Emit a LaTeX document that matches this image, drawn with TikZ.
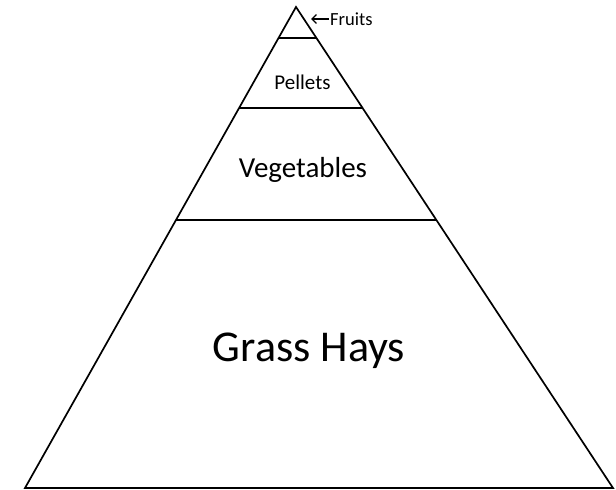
\documentclass[tikz,border=0pt]{standalone}
\usepackage{fontspec}
\setmainfont{Carlito}
\usetikzlibrary{arrows.meta,calc}
\tikzset{
  edge/.style={line width=1.7pt, black, line join=miter},
  lbl/.style={inner sep=0pt, anchor=base, text=black},
}
\begin{document}
\begin{tikzpicture}[x=1pt,y=-1pt]
\useasboundingbox (0,0) rectangle (616,490);
\coordinate (A) at (296,7);
\coordinate (BL) at (25,488);
\coordinate (BR) at (613,488);
\draw[edge] (A) -- (BL) -- (BR) -- cycle;
\coordinate (L1) at ($(A)!0.0644!(BL)$);
\coordinate (R1) at ($(A)!0.0644!(BR)$);
\coordinate (L2) at ($(A)!0.21!(BL)$);
\coordinate (R2) at ($(A)!0.21!(BR)$);
\coordinate (L3) at ($(A)!0.4428!(BL)$);
\coordinate (R3) at ($(A)!0.4428!(BR)$);
\draw[edge] (L1) -- (R1);
\draw[edge] (L2) -- (R2);
\draw[edge] (L3) -- (R3);
\node[lbl, font=\fontsize{18.5}{20}\selectfont, anchor=base west] (fruits) at (330,25) {Fruits};
\coordinate (tip) at (311,19);
\draw[line width=1.4pt, -{Straight Barb[length=4.5pt,width=9pt]}] (fruits.west |- tip) ++(-1,0) -- (tip);
\node[lbl, font=\fontsize{21}{24}\selectfont] (pellets) at (302.5,89) {Pellets};
\node[lbl, font=\fontsize{29}{32}\selectfont] (veg) at (303,177) {Vegetables};
\node[lbl, font=\fontsize{44}{48}\selectfont] (grass) at (309,361) {Grass Hays};
\end{tikzpicture}
\end{document}
